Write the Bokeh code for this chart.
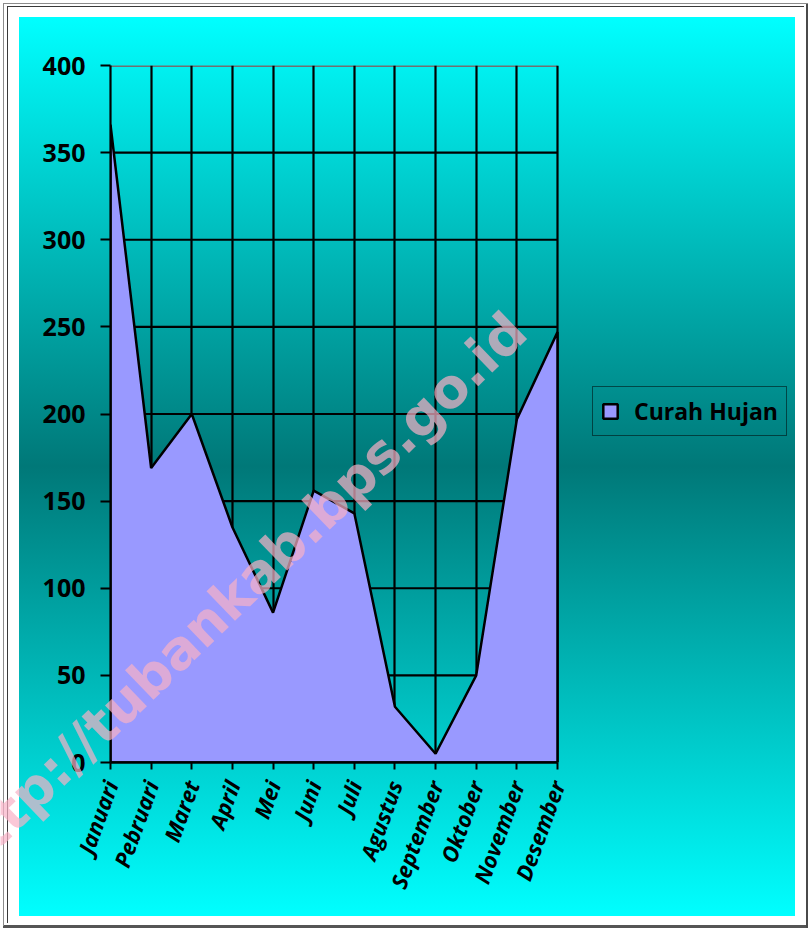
import math
from bokeh.plotting import figure
from bokeh.models import (Range1d, FixedTicker, Legend, LegendItem, Label)
from bokeh.embed import file_html
from bokeh.resources import INLINE

# ---------------- data ----------------
months = ["Januari", "Pebruari", "Maret", "April", "Mei", "Juni", "Juli",
          "Agustus", "September", "Oktober", "November", "Desember"]
curah_hujan = [366, 169, 200, 135, 86, 156, 143, 32, 5, 50, 197, 247]
y_ticks = [0, 50, 100, 150, 200, 250, 300, 350, 400]
series_name = "Curah Hujan"
watermark = "http://tubankab.bps.go.id"

idx = list(range(len(months)))

# ---------------- layout constants (pixels) ----------------
PAGE_W, PAGE_H = 809, 928
DATA_L, DATA_R, DATA_T, DATA_B = 110, 557, 65, 762   # where the chart area sits
FRAME_R = PAGE_W                                     # frame runs to the right edge (room for legend)
x_end = idx[-1] * (FRAME_R - DATA_L) / (DATA_R - DATA_L)

# ---------------- main figure ----------------
p = figure(width=PAGE_W, height=PAGE_H, output_backend="svg", toolbar_location=None,
           x_range=Range1d(idx[0], x_end), y_range=Range1d(y_ticks[0], y_ticks[-1]),
           min_border_left=DATA_L, min_border_right=PAGE_W - FRAME_R,
           min_border_top=DATA_T, min_border_bottom=PAGE_H - DATA_B)
p.border_fill_color = None
p.background_fill_color = None
p.outline_line_color = None

bg_layers = [
    "linear-gradient(#8c8c8c,#8c8c8c) 3px 3px / 1px 923px no-repeat",
    "linear-gradient(#8c8c8c,#8c8c8c) 3px 3px / 805px 1px no-repeat",
    "linear-gradient(#3a3a3a,#3a3a3a) 7px 6px / 1px 917px no-repeat",
    "linear-gradient(#3a3a3a,#3a3a3a) 7px 6px / 797px 1px no-repeat",
    "linear-gradient(#4a4a4a,#4a4a4a) 806px 3px / 2px 925px no-repeat",
    "linear-gradient(#555555,#555555) 3px 925px / 805px 3px no-repeat",
    "linear-gradient(to bottom, #00FFFF 0%, #007878 50%, #00FFFF 100%) 19px 17px / 776px 899px no-repeat",
    "#FFFFFF",
]
p.styles = {"position": "absolute", "left": "0px", "top": "0px",
            "background": ", ".join(bg_layers)}

# ---------------- grid ----------------
p.xgrid.ticker = FixedTicker(ticks=idx)
p.xgrid.grid_line_color = "black"
p.xgrid.grid_line_width = 2.2
p.ygrid.visible = False
# horizontal grid lines limited to the category span
hgrid_colors = ["#707070" if t == y_ticks[-1] else "black" for t in y_ticks]
hgrid_widths = [3 if t == y_ticks[-1] else 2.2 for t in y_ticks]
p.segment(x0=[idx[0]] * len(y_ticks), x1=[idx[-1]] * len(y_ticks),
          y0=y_ticks, y1=y_ticks, line_color=hgrid_colors,
          line_width=hgrid_widths, level="underlay")

# ---------------- axes ----------------
xa = p.xaxis[0]
xa.ticker = FixedTicker(ticks=idx)
xa.bounds = (idx[0], idx[-1])
xa.major_label_overrides = {i: m for i, m in zip(idx, months)}
xa.major_label_orientation = math.radians(70)
xa.major_label_text_font = "Open Sans"
xa.major_label_text_font_style = "bold italic"
xa.major_label_text_font_size = "22px"
xa.major_label_text_color = "black"
xa.major_label_standoff = 12
xa.axis_line_color = "black"
xa.axis_line_width = 2.5
xa.major_tick_line_color = "black"
xa.major_tick_line_width = 2
xa.major_tick_out = 7
xa.major_tick_in = 0
xa.minor_tick_line_color = None

ya = p.yaxis[0]
ya.ticker = FixedTicker(ticks=y_ticks)
ya.major_label_text_font = "Open Sans"
ya.major_label_text_font_style = "bold"
ya.major_label_text_font_size = "25px"
ya.major_label_text_color = "black"
ya.major_label_standoff = 15
ya.axis_line_color = "black"
ya.axis_line_width = 2.2
ya.major_tick_line_color = "black"
ya.major_tick_line_width = 2.2
ya.major_tick_out = 10
ya.major_tick_in = 0
ya.minor_tick_line_color = None

# ---------------- area ----------------
r = p.patch(x=idx + [idx[-1], idx[0]], y=curah_hujan + [0, 0],
            fill_color="#9999FF", line_color="black", line_width=2.5)

# ---------------- legend ----------------
legend = Legend(items=[LegendItem(label=series_name, renderers=[r])],
                location=(482, 326))
legend.border_line_color = "black"
legend.border_line_width = 1.5
legend.background_fill_alpha = 0
legend.label_text_font = "Open Sans"
legend.label_text_font_style = "bold"
legend.label_text_font_size = "23px"
legend.label_text_color = "black"
legend.glyph_width = 18
legend.glyph_height = 18
legend.label_height = 27
legend.label_standoff = 15
legend.padding = 8
legend.spacing = 0
legend.margin = 0
p.add_layout(legend)

# ---------------- watermark overlay ----------------
q = figure(width=PAGE_W, height=PAGE_H, output_backend="svg", toolbar_location=None,
           x_range=Range1d(0, PAGE_W), y_range=Range1d(0, PAGE_H),
           x_axis_location=None, y_axis_location=None,
           min_border=0, min_border_left=0, min_border_right=0,
           min_border_top=0, min_border_bottom=0)
q.border_fill_color = None
q.background_fill_color = None
q.outline_line_color = None
q.grid.visible = False
q.styles = {"position": "absolute", "left": "0px", "top": "0px",
            "pointer-events": "none"}

wm = Label(x=517, y=606, x_units="screen", y_units="screen", text=watermark,
           angle=math.radians(44), text_align="right", text_baseline="alphabetic",
           text_font="DejaVu Sans", text_font_style="bold", text_font_size="54px",
           text_color="#F8B1C6", text_alpha=0.7)
q.add_layout(wm)

open("out.html", "w").write(file_html([p, q], INLINE))
